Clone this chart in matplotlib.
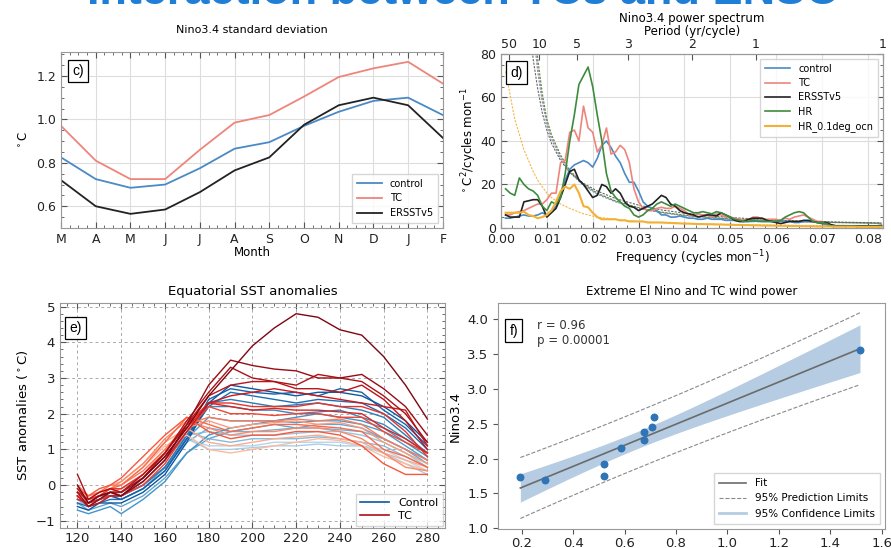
import numpy as np
import matplotlib
matplotlib.use("Agg")
import matplotlib.pyplot as plt
from matplotlib.ticker import AutoMinorLocator, MultipleLocator

# ---------------- data: panel c ----------------
months = ['M', 'A', 'M', 'J', 'J', 'A', 'S', 'O', 'N', 'D', 'J', 'F']
std_control = [0.825, 0.725, 0.685, 0.70, 0.775, 0.865, 0.895, 0.97, 1.035, 1.085, 1.10, 1.02]
std_tc = [0.97, 0.81, 0.725, 0.725, 0.86, 0.985, 1.02, 1.105, 1.195, 1.235, 1.265, 1.165]
std_ersst = [0.72, 0.60, 0.565, 0.585, 0.665, 0.765, 0.825, 0.975, 1.065, 1.10, 1.065, 0.915]

# ---------------- data: panel d ----------------
freq = [round(0.001 * i, 3) for i in range(1, 84)]
spec_control = [4.5, 4.5, 5, 5.5, 6, 5.5, 5.5, 6, 7, 6, 8, 10, 16, 22, 27, 29, 30, 31, 30, 28,
                32, 38, 40, 37, 33, 30, 25, 21, 21, 17, 12, 10, 9, 8, 6, 6, 5, 5, 5.5, 5,
                4.5, 4.5, 4, 4, 4.5, 4, 4, 4, 3.5, 3.5, 3.5, 3, 3, 3, 3, 3.2, 3, 3, 3, 3,
                3, 3, 3, 2.5, 2.5, 3, 3, 3, 2.5, 2, 1.5, 1.2, 1, 1, 1, 0.9, 0.9, 0.8, 0.8, 0.8,
                0.8, 0.8, 0.8]
spec_tc = [6, 6, 7, 7.5, 8, 9, 10, 11, 11, 13, 16, 16, 30, 31, 44, 45, 40, 56, 46, 44,
           35, 38, 46, 34, 35, 38, 36, 30, 18, 12, 9, 8, 8, 9, 9.5, 9, 9, 10, 9, 8,
           6, 6, 6.5, 6, 6, 5, 6.5, 6, 5, 5, 4.5, 4, 3.5, 4, 5, 5, 4, 4, 4, 4,
           3.5, 4.5, 4, 5, 5.5, 6, 5, 4, 3, 3, 2, 1.2, 1, 1, 1, 0.9, 0.9, 0.9, 0.8, 0.8,
           0.8, 0.8, 0.8]
spec_ersst = [6, 5, 5, 5, 12, 12.5, 13, 13, 10, 5, 7, 9, 14, 20, 26, 27, 22, 20, 17, 14,
              15, 20, 19, 16, 18, 16, 12, 10, 9.5, 8, 9, 10, 11, 13, 15, 14, 11, 10, 8, 7,
              6.5, 6, 5, 5.5, 6, 6, 5.5, 7, 6, 5, 3.5, 3, 3, 4, 4.5, 4.5, 4.5, 3.5, 3, 2.5,
              2, 2.5, 3, 3, 3, 3.5, 3.5, 3, 2.5, 2.5, 2.5, 1.5, 1, 1, 1, 1, 1, 1, 1, 1,
              1, 1, 1.2]
spec_hr = [18, 16, 15, 23, 20, 18, 17, 15, 10, 8, 12, 11, 14, 25, 40, 52, 66, 70, 74, 65,
           52, 40, 25, 17, 14, 12, 10, 9, 6, 5, 6, 8, 9, 11, 12, 11, 10, 11, 10, 9,
           8, 7, 7, 7.5, 7, 6.5, 7.5, 7, 6, 5, 4, 3.5, 3, 3, 3.5, 3, 3, 3, 3, 3,
           3.5, 5, 6, 7, 7.5, 7, 5, 3, 2.5, 2.5, 2, 1, 0.8, 0.8, 0.8, 0.8, 0.8, 0.8, 0.8, 0.8,
           0.8, 0.8, 0.8]
spec_hr01 = [7, 7, 7, 7, 7.5, 6, 5.5, 4.5, 5, 6, 8, 12, 17, 19, 18, 20, 16, 10, 9.5, 7,
             5, 4, 4, 4, 4, 3.5, 3.5, 3, 3, 3, 3, 2.5, 2.5, 2.5, 2.5, 2.4, 2.3, 2.2, 2.1, 2,
             2, 1.9, 1.8, 1.8, 1.7, 1.7, 1.6, 1.6, 1.5, 1.5, 1.4, 1.4, 1.3, 1.3, 1.2, 1.2, 1.1, 1.1, 1.1, 1,
             1, 1, 0.9, 0.9, 0.9, 0.8, 0.8, 0.8, 0.7, 0.7, 0.7, 0.7, 0.6, 0.6, 0.6, 0.6, 0.6, 0.5, 0.5, 0.5,
             0.5, 0.5, 0.5]

rn_freq = [0.001, 0.003, 0.005, 0.006, 0.007, 0.008, 0.009, 0.010, 0.011, 0.013, 0.015, 0.018, 0.021,
           0.025, 0.03, 0.035, 0.04, 0.05, 0.06, 0.07, 0.083]
rn_control = [900, 400, 150, 115, 92, 72, 58, 48, 41, 32, 25.5, 19.5, 15.5, 12, 9, 7, 5.6, 4, 3.1, 2.6, 2.1]
rn_tc = [900, 400, 160, 120, 96, 75, 60, 49, 42, 33, 26, 20, 16, 12.3, 9.3, 7.2, 5.8, 4.1, 3.2, 2.6, 2.1]
rn_hr = [950, 420, 170, 128, 100, 78, 62, 50, 43, 33.5, 26.5, 20.2, 16, 12.4, 9.4, 7.3, 5.9, 4.2, 3.3, 2.7, 2.2]
rn_ersst = [600, 250, 120, 95, 78, 64, 53, 45, 39, 31, 25.5, 20.5, 17, 13.5, 10.5, 8.3, 6.8, 4.8, 3.6, 2.9, 2.3]
rn_hr01 = [72, 50, 36, 31, 26, 22, 19, 16, 14, 11, 9, 6.5, 5, 4, 3, 2.5, 2.1, 1.6, 1.3, 1.1, 0.9]

period_ticks = [50, 10, 5, 3, 2, 1.5, 1]

# ---------------- data: panel e ----------------
lon = [120, 125, 130, 135, 140, 150, 160, 170, 180, 190, 200, 210, 220, 230, 240, 250, 260, 270, 280]
tc_lines = [
    [0.0, -0.5, -0.3, -0.2, -0.3, 0.2, 0.8, 1.6, 2.5, 3.2, 3.9, 4.4, 4.8, 4.7, 4.35, 4.2, 3.6, 2.8, 1.85],
    [-0.2, -0.6, -0.4, -0.2, -0.3, 0.1, 0.7, 1.7, 2.8, 3.5, 3.35, 3.25, 3.2, 3.0, 3.0, 3.1, 2.7, 2.2, 1.4],
    [0.3, -0.4, -0.2, -0.1, -0.2, 0.2, 0.9, 1.8, 2.6, 3.3, 3.0, 2.9, 2.8, 3.1, 3.0, 2.9, 2.5, 2.0, 1.2],
    [-0.1, -0.5, -0.3, -0.2, -0.2, 0.3, 0.9, 1.7, 2.5, 2.8, 2.9, 2.9, 2.7, 2.7, 2.6, 2.8, 2.4, 1.8, 1.0],
    [-0.3, -0.6, -0.5, -0.3, -0.3, 0.1, 0.7, 1.5, 2.3, 2.5, 2.6, 2.7, 2.6, 2.5, 2.4, 2.3, 2.2, 2.1, 1.1],
    [-0.2, -0.4, -0.3, -0.1, -0.1, 0.3, 0.9, 1.7, 2.3, 2.3, 2.2, 2.2, 2.2, 2.3, 2.2, 2.2, 2.0, 1.5, 0.8],
    [-0.4, -0.5, -0.4, -0.2, -0.2, 0.2, 0.8, 1.6, 2.3, 2.2, 2.1, 2.15, 2.1, 2.1, 2.05, 2.0, 1.6, 1.3, 0.9],
    [-0.3, -0.6, -0.4, -0.3, -0.3, 0.0, 0.6, 1.5, 2.2, 2.0, 2.0, 1.95, 2.0, 2.0, 1.9, 1.9, 1.5, 1.2, 0.9],
    [0.0, -0.3, -0.2, 0.0, 0.0, 0.4, 1.0, 1.7, 1.9, 1.8, 1.8, 1.8, 1.85, 1.8, 1.85, 1.7, 1.3, 1.0, 0.7],
    [-0.3, -0.5, -0.3, -0.2, -0.1, 0.3, 1.0, 1.6, 1.8, 1.6, 1.7, 1.75, 1.8, 1.7, 1.75, 1.6, 1.2, 0.9, 0.6],
    [-0.2, -0.4, -0.2, -0.1, 0.0, 0.5, 1.2, 1.9, 1.7, 1.5, 1.6, 1.7, 1.7, 1.65, 1.6, 1.5, 1.0, 0.8, 0.5],
    [-0.4, -0.4, -0.3, -0.1, 0.1, 0.6, 1.3, 1.8, 1.6, 1.4, 1.5, 1.5, 1.6, 1.6, 1.5, 1.3, 0.9, 0.5, 0.4],
    [-0.1, -0.3, -0.1, 0.0, 0.2, 0.8, 1.4, 1.9, 1.5, 1.3, 1.4, 1.4, 1.5, 1.5, 1.4, 1.1, 0.6, 0.3, 0.3],
    [-0.3, -0.3, -0.2, 0.0, 0.1, 0.6, 1.2, 1.6, 1.2, 1.1, 1.2, 1.3, 1.35, 1.4, 1.3, 1.2, 0.9, 0.7, 0.5],
    [-0.2, -0.3, -0.2, -0.1, 0.0, 0.5, 1.1, 1.4, 1.0, 0.9, 1.0, 1.1, 1.2, 1.3, 1.25, 1.1, 0.8, 0.6, 0.4],
]
control_lines = [
    [-0.6, -0.7, -0.5, -0.5, -0.5, -0.2, 0.3, 1.2, 2.3, 2.8, 2.7, 2.6, 2.5, 2.6, 2.6, 2.5, 2.2, 1.8, 1.2],
    [-0.3, -0.5, -0.4, -0.3, -0.4, -0.1, 0.4, 1.3, 2.4, 2.7, 2.6, 2.55, 2.6, 2.5, 2.7, 2.6, 2.1, 1.7, 1.1],
    [-0.5, -0.6, -0.5, -0.4, -0.4, -0.1, 0.4, 1.3, 2.2, 2.6, 2.5, 2.4, 2.3, 2.4, 2.35, 2.3, 2.0, 1.6, 1.0],
    [-0.2, -0.4, -0.3, -0.3, -0.3, 0.0, 0.5, 1.4, 2.3, 2.4, 2.3, 2.2, 2.25, 2.3, 2.2, 2.1, 1.9, 1.4, 0.9],
    [-0.4, -0.5, -0.4, -0.3, -0.3, 0.0, 0.5, 1.4, 2.2, 2.2, 2.1, 2.1, 2.0, 2.05, 2.1, 1.9, 1.7, 1.3, 0.9],
    [-0.7, -0.8, -0.7, -0.6, -0.8, -0.4, 0.1, 0.9, 1.4, 1.6, 1.7, 1.8, 1.9, 2.0, 1.9, 1.8, 1.6, 1.2, 0.8],
    [-0.3, -0.5, -0.4, -0.3, -0.3, 0.0, 0.5, 1.3, 1.9, 1.8, 1.8, 1.8, 1.75, 1.8, 1.8, 1.7, 1.5, 1.1, 0.7],
    [-0.5, -0.7, -0.6, -0.5, -0.6, -0.3, 0.2, 0.9, 1.3, 1.5, 1.6, 1.7, 1.6, 1.7, 1.7, 1.6, 1.3, 1.0, 0.6],
    [-0.4, -0.6, -0.5, -0.3, -0.4, -0.1, 0.5, 1.2, 1.6, 1.5, 1.5, 1.55, 1.6, 1.6, 1.55, 1.5, 1.3, 1.0, 0.7],
    [-0.2, -0.4, -0.3, -0.2, -0.2, 0.1, 0.7, 1.4, 1.5, 1.4, 1.4, 1.4, 1.45, 1.5, 1.5, 1.4, 1.2, 0.9, 0.5],
    [-0.3, -0.5, -0.3, -0.2, -0.1, 0.2, 0.8, 1.5, 1.3, 1.2, 1.3, 1.3, 1.3, 1.35, 1.3, 1.2, 1.1, 0.8, 0.5],
    [-0.5, -0.5, -0.4, -0.3, -0.2, 0.2, 0.8, 1.3, 1.1, 1.1, 1.1, 1.2, 1.2, 1.2, 1.2, 1.1, 1.0, 0.7, 0.4],
    [-0.3, -0.4, -0.3, -0.2, -0.1, 0.3, 0.9, 1.3, 1.0, 1.0, 1.05, 1.1, 1.1, 1.15, 1.1, 1.1, 0.9, 0.6, 0.3],
]

# ---------------- data: panel f ----------------
wind_power = [0.195, 0.29, 0.52, 0.52, 0.585, 0.675, 0.675, 0.705, 0.715, 1.515]
nino34 = [1.74, 1.69, 1.92, 1.75, 2.15, 2.38, 2.27, 2.45, 2.60, 3.55]
r_text = "r = 0.96\np = 0.00001"

# ---------------- figure ----------------
plt.rcParams['font.family'] = ['DejaVu Sans']
fig = plt.figure(figsize=(8.91, 5.48), dpi=100)

fig.text(0.52, 1 - 4 / 548, "Interaction between TCs and ENSO", ha='center', va='baseline',
         fontsize=32.5, fontweight='bold', color='#1f7fd6', family='Liberation Sans')

SPINE = '#999999'
C_CTRL = '#4a8ac4'
C_TC = '#ee857c'
C_OBS = '#222222'
C_HR = '#3d8b3d'
C_HR01 = '#f2b134'


def panel_label(ax, s, x=0.03, y=0.87):
    ax.text(x, y, s, transform=ax.transAxes, fontsize=10, family='Liberation Sans',
            bbox=dict(boxstyle='square,pad=0.3', fc='white', ec='black', lw=0.9), zorder=10)


def style_in(ax):
    for sp in ax.spines.values():
        sp.set_color(SPINE)
    ax.tick_params(which='both', direction='in', top=True, right=True, colors='#555555',
                   labelcolor='#222222')
    ax.tick_params(which='major', length=4)
    ax.tick_params(which='minor', length=2)


# ---- panel c ----
axc = fig.add_axes([0.0685, 0.584, 0.4285, 0.321])
x = np.arange(len(months))
axc.plot(x, std_control, color=C_CTRL, lw=1.3, label='control')
axc.plot(x, std_tc, color=C_TC, lw=1.3, label='TC')
axc.plot(x, std_ersst, color=C_OBS, lw=1.3, label='ERSSTv5')
axc.set_xlim(0, 11)
axc.set_ylim(0.5, 1.31)
axc.set_xticks(x)
axc.set_xticklabels(months, fontsize=9)
axc.yaxis.set_major_locator(MultipleLocator(0.2))
axc.yaxis.set_minor_locator(MultipleLocator(0.05))
axc.xaxis.set_minor_locator(AutoMinorLocator(4))
axc.tick_params(axis='y', labelsize=9)
axc.grid(True, color='#dddddd', lw=0.8)
axc.set_axisbelow(True)
style_in(axc)
axc.set_xlabel('Month', fontsize=8.5, labelpad=0)
axc.set_ylabel(r'$^\circ$C', fontsize=8.5)
axc.set_title('Nino3.4 standard deviation', fontsize=8, pad=14)
axc.legend(loc='lower right', fontsize=7, frameon=True, fancybox=False, edgecolor='#cccccc',
           handlelength=2.6, borderpad=0.5, labelspacing=0.5)
panel_label(axc, 'c)')

# ---- panel d ----
axd = fig.add_axes([0.5623, 0.584, 0.4287, 0.3175])
for vals, col in [(rn_control, C_CTRL), (rn_tc, C_TC), (rn_hr, C_HR), (rn_ersst, '#555555'),
                  (rn_hr01, C_HR01)]:
    axd.plot(rn_freq, vals, color=col, lw=0.8, ls=(0, (2, 1.2)), alpha=0.9)
axd.plot(freq, spec_control, color=C_CTRL, lw=1.2, label='control')
axd.plot(freq, spec_tc, color=C_TC, lw=1.2, label='TC')
axd.plot(freq, spec_ersst, color=C_OBS, lw=1.2, label='ERSSTv5')
axd.plot(freq, spec_hr, color=C_HR, lw=1.2, label='HR')
axd.plot(freq, spec_hr01, color=C_HR01, lw=1.5, label='HR_0.1deg_ocn')
axd.set_xlim(0, 1 / 12)
axd.set_ylim(0, 80)
axd.xaxis.set_major_locator(MultipleLocator(0.01))
axd.xaxis.set_minor_locator(MultipleLocator(0.0025))
axd.yaxis.set_major_locator(MultipleLocator(20))
axd.yaxis.set_minor_locator(MultipleLocator(5))
axd.xaxis.set_major_formatter(plt.FormatStrFormatter('%.2f'))
axd.tick_params(labelsize=9)
axd.grid(True, color='#dddddd', lw=0.8)
axd.set_axisbelow(True)
style_in(axd)
axd.tick_params(top=False)
axd.set_xlabel(r'Frequency (cycles mon$^{-1}$)', fontsize=8.5, labelpad=2)
axd.set_ylabel(r'$^\circ$C$^2$/cycles mon$^{-1}$', fontsize=8.5, labelpad=1)
axd.legend(loc='upper right', fontsize=7, frameon=True, fancybox=False, edgecolor='#cccccc',
           handlelength=2.6, borderpad=0.5, labelspacing=0.45)
panel_label(axd, 'd)', x=0.025, y=0.87)
axd2 = axd.twiny()
axd2.set_xlim(axd.get_xlim())
axd2.set_xticks([1 / (12 * p) for p in period_ticks])
axd2.set_xticklabels([str(int(p)) for p in period_ticks], fontsize=9)
axd2.tick_params(direction='in', length=4, colors='#555555', labelcolor='#222222', pad=2)
for sp in axd2.spines.values():
    sp.set_color(SPINE)
axd2.set_xlabel('Period (yr/cycle)', fontsize=8.5, labelpad=2)
axd2.set_title('Nino3.4 power spectrum', fontsize=8.5, pad=0)

# ---- panel e ----
axe = fig.add_axes([0.0673, 0.0365, 0.432, 0.4106])
nb = len(control_lines)
blues = plt.cm.Blues(np.linspace(0.3, 0.85, nb))
order_c = sorted(range(nb), key=lambda i: max(control_lines[i]))
for k, i in enumerate(order_c):
    axe.plot(lon, control_lines[i], color=blues[k], lw=1.0)
nr = len(tc_lines)
reds = plt.cm.Reds(np.linspace(0.25, 0.95, nr))
order_t = sorted(range(nr), key=lambda i: max(tc_lines[i]))
for k, i in enumerate(order_t):
    axe.plot(lon, tc_lines[i], color=reds[k], lw=1.0)
axe.plot([], [], color=plt.cm.Blues(0.85), lw=1.2, label='Control')
axe.plot([], [], color=plt.cm.Reds(0.85), lw=1.2, label='TC')
axe.set_xlim(112, 288)
axe.set_ylim(-1.2, 5.1)
axe.xaxis.set_major_locator(MultipleLocator(20))
axe.xaxis.set_minor_locator(MultipleLocator(5))
axe.yaxis.set_major_locator(MultipleLocator(1))
axe.yaxis.set_minor_locator(MultipleLocator(0.2))
axe.tick_params(labelsize=9.5)
axe.grid(True, color='#aaaaaa', ls=(0, (3, 3)), lw=0.7)
axe.set_axisbelow(True)
style_in(axe)
axe.tick_params(axis='x', pad=3)
axe.set_ylabel(r'SST anomalies ($^\circ$C)', fontsize=9.5)
axe.set_title('Equatorial SST anomalies', fontsize=9.5, pad=6)
axe.legend(loc='lower right', fontsize=8, frameon=True, fancybox=False, edgecolor='#cccccc',
           handlelength=2.6, borderpad=0.4, labelspacing=0.3, borderaxespad=0.2)
panel_label(axe, 'e)', x=0.025, y=0.87)

# ---- panel f ----
axf = fig.add_axes([0.5589, 0.0347, 0.4343, 0.4124])
xw = np.array(wind_power)
yn = np.array(nino34)
n = len(xw)
slope, intercept = np.polyfit(xw, yn, 1)
xf = np.linspace(xw.min(), xw.max(), 100)
yf = intercept + slope * xf
resid = yn - (intercept + slope * xw)
s = np.sqrt(np.sum(resid ** 2) / (n - 2))
sxx = np.sum((xw - xw.mean()) ** 2)
tval = 2.306
ci = tval * s * np.sqrt(1 / n + (xf - xw.mean()) ** 2 / sxx)
pi = tval * s * np.sqrt(1 + 1 / n + (xf - xw.mean()) ** 2 / sxx)
axf.fill_between(xf, yf - ci, yf + ci, color='#b5cce3', lw=0, zorder=1)
axf.plot(xf, yf, color='#6b6b6b', lw=1.2, label='Fit', zorder=2)
axf.plot(xf, yf - pi, color='#8a8a8a', lw=0.8, ls='--', label='95% Prediction Limits', zorder=2)
axf.plot(xf, yf + pi, color='#8a8a8a', lw=0.8, ls='--', zorder=2)
axf.plot([], [], color='#b5cce3', lw=2, label='95% Confidence Limits')
axf.scatter(xw, yn, s=22, color='#2f74b5', zorder=3)
axf.set_xlim(0.108, 1.612)
axf.set_ylim(0.99, 4.23)
axf.xaxis.set_major_locator(MultipleLocator(0.2))
axf.yaxis.set_major_locator(MultipleLocator(0.5))
axf.tick_params(labelsize=9.5, colors='#555555', labelcolor='#222222')
axf.tick_params(axis='x', pad=2)
for sp in axf.spines.values():
    sp.set_color(SPINE)
axf.set_ylabel('Nino3.4', fontsize=9.5)
axf.set_title('Extreme El Nino and TC wind power', fontsize=8.5, pad=6)
axf.text(0.1, 0.93, r_text, transform=axf.transAxes, fontsize=8.5, va='top', color='#333333')
axf.legend(loc='lower right', fontsize=7.5, frameon=True, fancybox=False, edgecolor='#cccccc',
           handlelength=2.6, borderpad=0.5, labelspacing=0.5)
panel_label(axf, 'f)', x=0.03, y=0.86)

fig.savefig('out.png', dpi=100)
